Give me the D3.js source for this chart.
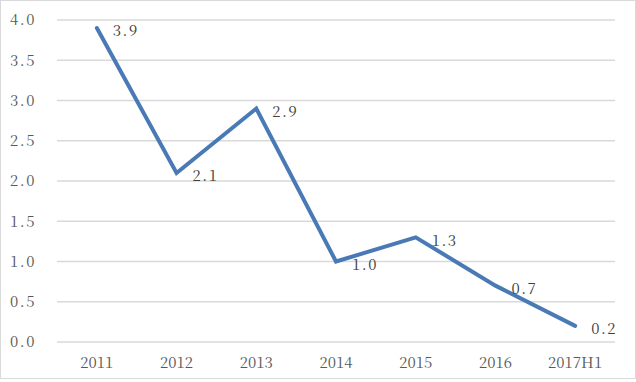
<!DOCTYPE html>
<html><head><meta charset="utf-8">
<script src="https://cdn.jsdelivr.net/npm/d3@7"></script>
<style>body{margin:0;background:#fff}svg{display:block}</style>
</head><body>
<svg id="c" width="636" height="382"></svg>
<script>
const categories = ["2011","2012","2013","2014","2015","2016","2017H1"];
const values = [3.9, 2.1, 2.9, 1.0, 1.3, 0.7, 0.2];
const yTicks = [0,0.5,1,1.5,2,2.5,3,3.5,4];

const svg = d3.select("#c");
const W = 636, H = 382;
const m = {left:57, right:21, top:20, bottom:40};
const FONT = '"Noto Serif CJK SC","Liberation Serif",serif';
svg.append("rect").attr("x",0.5).attr("y",0.5).attr("width",W-1).attr("height",H-4)
  .attr("fill","#fff").attr("stroke","#d9d9d9");
const x = d3.scaleBand().domain(categories).range([m.left, W-m.right]);
const y = d3.scaleLinear().domain([0,4]).range([H-m.bottom, m.top]);

const g = svg.append("g");
g.selectAll("line.grid").data(yTicks).enter().append("line")
  .attr("x1", m.left).attr("x2", W-m.right)
  .attr("y1", d=>y(d)).attr("y2", d=>y(d))
  .attr("stroke","#d9d9d9").attr("stroke-width",1.5);

g.selectAll("text.yt").data(yTicks).enter().append("text")
  .attr("x", 36).attr("y", d=>y(d)).attr("dy","0.35em")
  .attr("text-anchor","end")
  .style("font-family",FONT).style("font-size","15px").style("letter-spacing","1.5px")
  .attr("fill","#595959")
  .text(d=>d.toFixed(1));

g.selectAll("text.xt").data(categories).enter().append("text")
  .attr("x", d=>x(d)+x.bandwidth()/2).attr("y", 368)
  .attr("text-anchor","middle")
  .style("font-family",FONT).style("font-size","15px")
  .attr("fill","#595959").text(d=>d);

const line = d3.line().x((d,i)=>x(categories[i])+x.bandwidth()/2).y(d=>y(d));
g.append("path").datum(values).attr("d", line).attr("fill","none")
  .attr("stroke","#4a7ab6").attr("stroke-width",4).attr("stroke-linejoin","miter").attr("stroke-linecap","round");

g.selectAll("text.lbl").data(values).enter().append("text")
  .attr("x",(d,i)=>x(categories[i])+x.bandwidth()/2+16)
  .attr("y", d=>y(d)+3).attr("dy","0.35em")
  .style("font-family",FONT).style("font-size","15px").style("letter-spacing","1.5px")
  .attr("fill","#404040").text(d=>d.toFixed(1));
</script>
</body></html>
